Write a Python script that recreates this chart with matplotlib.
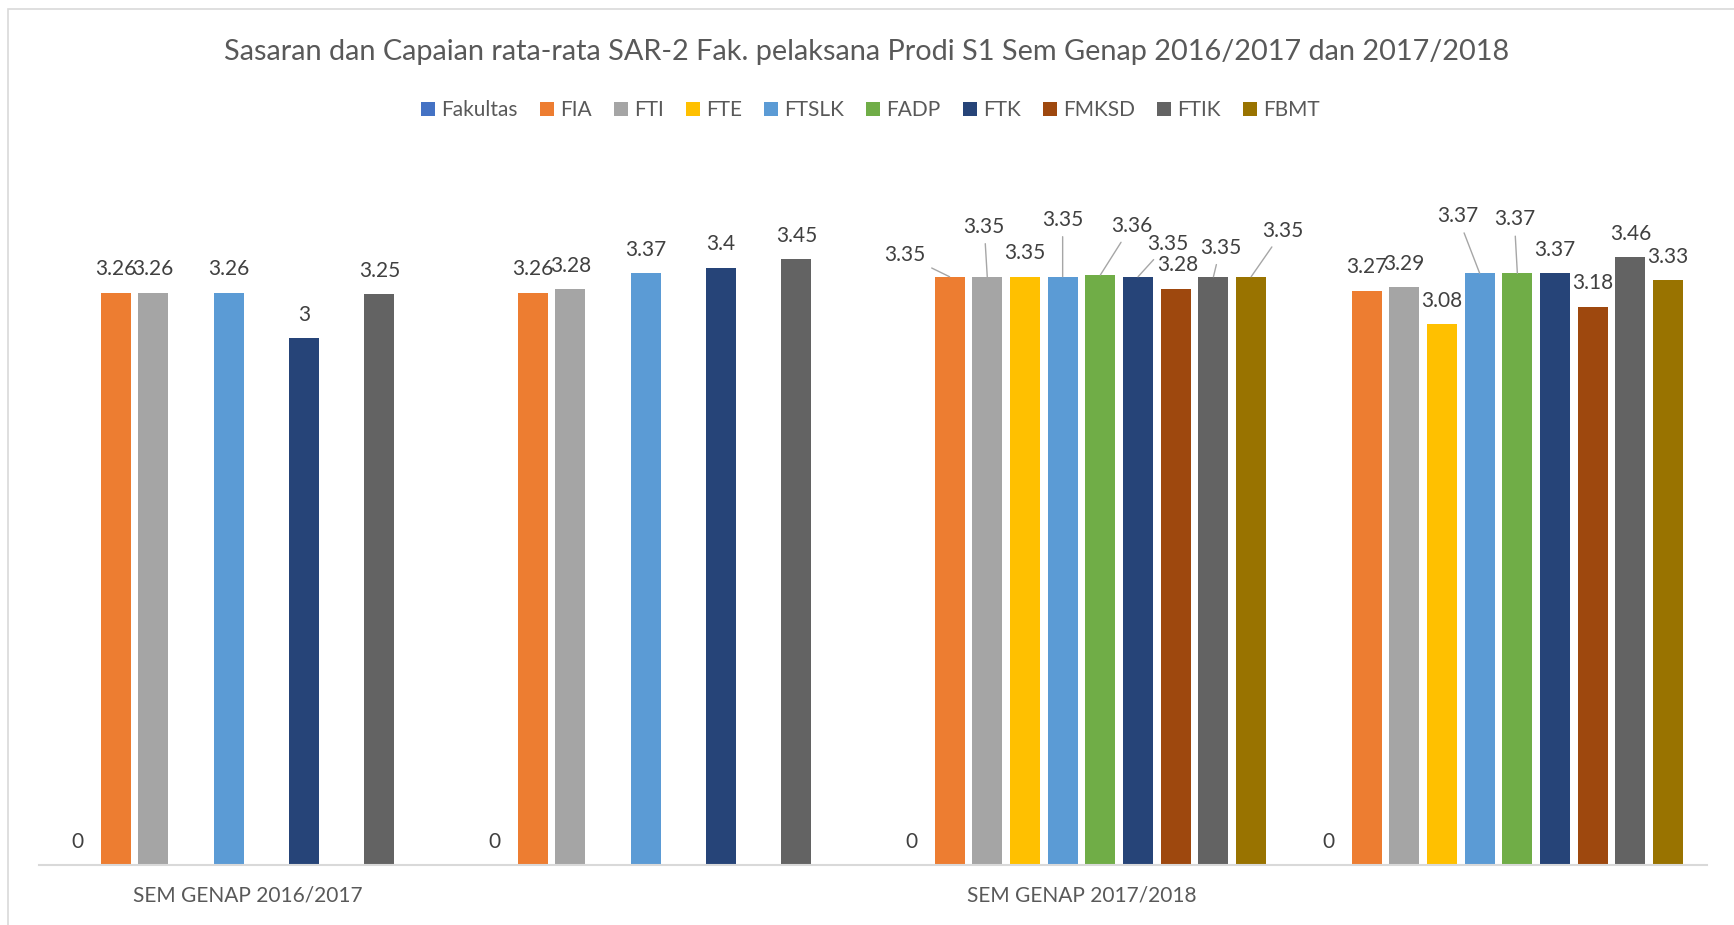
import numpy as np
import matplotlib.pyplot as plt
from matplotlib.patches import Rectangle

plt.rcParams['font.family'] = ['Lato', 'DejaVu Sans']

# Chart data
title = "Sasaran dan Capaian rata-rata SAR-2 Fak. pelaksana Prodi S1 Sem Genap 2016/2017 dan 2017/2018"
categories = ["SEM GENAP 2016/2017", "", "SEM GENAP 2017/2018", ""]
series_names = ["Fakultas", "FIA", "FTI", "FTE", "FTSLK", "FADP", "FTK", "FMKSD", "FTIK", "FBMT"]
nan = np.nan
fakultas = [0, 0, 0, 0]
fia = [3.26, 3.26, 3.35, 3.27]
fti = [3.26, 3.28, 3.35, 3.29]
fte = [nan, nan, 3.35, 3.08]
ftslk = [3.26, 3.37, 3.35, 3.37]
fadp = [nan, nan, 3.36, 3.37]
ftk = [3.0, 3.4, 3.35, 3.37]
fmksd = [nan, nan, 3.28, 3.18]
ftik = [3.25, 3.45, 3.35, 3.46]
fbmt = [nan, nan, 3.35, 3.33]
series_values = [fakultas, fia, fti, fte, ftslk, fadp, ftk, fmksd, ftik, fbmt]

colors = ["#4472C4", "#ED7D31", "#A5A5A5", "#FFC000", "#5B9BD5",
          "#70AD47", "#264478", "#9E480E", "#636363", "#997300"]

# Labels that were moved away from their bar (offset in pixels: dx, height of baseline above bar top)
moved_labels = {
    (2, "FIA"): (-45, 16), (2, "FTI"): (-3, 44), (2, "FTSLK"): (0, 51),
    (2, "FADP"): (31, 43), (2, "FTK"): (30, 27), (2, "FTIK"): (7, 23),
    (2, "FBMT"): (32, 40), (2, "FMKSD"): (2, 18),
    (3, "FTSLK"): (-22, 51), (3, "FADP"): (-3, 48),
}
no_leader = {(2, "FMKSD")}

W, H = 1734, 925
fig = plt.figure(figsize=(W / 100, H / 100), dpi=100)

# Light chart border (cut off at right and bottom)
fig.patches.append(Rectangle((8 / W, -0.1), 1.2, 1 - 9 / H + 0.1, transform=fig.transFigure,
                             fill=False, edgecolor="#d9d9d9", linewidth=1.2))

ax = fig.add_axes([39 / W, 1 - 865 / H, (1707 - 39) / W, 702.4 / H])

x = np.arange(len(categories))
slot = 0.0904
bar_w = 0.072
handles = []
for j, (name, vals) in enumerate(zip(series_names, series_values)):
    pos = x + (j - 4.5) * slot
    bars = ax.bar(pos, vals, width=bar_w, color=colors[j], linewidth=0, label=name)
    handles.append(bars)
    for i, v in enumerate(vals):
        if np.isnan(v):
            continue
        dx, dy = moved_labels.get((i, name), (0, 17.5))
        arrow = None
        if (i, name) in moved_labels and (i, name) not in no_leader:
            arrow = dict(arrowstyle="-", color="#a6a6a6", linewidth=1.0, shrinkA=3, shrinkB=0)
        ax.annotate(f"{v:g}", xy=(pos[i], v), xytext=(dx * 0.72, dy * 0.72),
                    textcoords="offset points", ha="center", va="baseline",
                    fontsize=15, color="#404040", arrowprops=arrow)

ax.set_xlim(-0.5, len(categories) - 0.5)
ax.set_ylim(0, 4)
ax.set_xticks(x)
ax.set_xticklabels(categories, fontsize=15, color="#595959")
ax.tick_params(axis="x", length=0, pad=15)
ax.set_yticks([])
for side in ["left", "right", "top"]:
    ax.spines[side].set_visible(False)
ax.spines["bottom"].set_color("#d9d9d9")
ax.spines["bottom"].set_linewidth(1.5)

fig.text(0.5, 1 - 60 / H, title, ha="center", va="baseline", fontsize=20.8, color="#595959")

leg = fig.legend(handles=handles, loc="center", bbox_to_anchor=(0.502, 1 - 110 / H), ncol=10,
                 frameon=False, fontsize=15, handlelength=0.67, handleheight=0.67,
                 handletextpad=0.3, columnspacing=1.06)
for t in leg.get_texts():
    t.set_color("#595959")

fig.savefig("out.png", dpi=100)
